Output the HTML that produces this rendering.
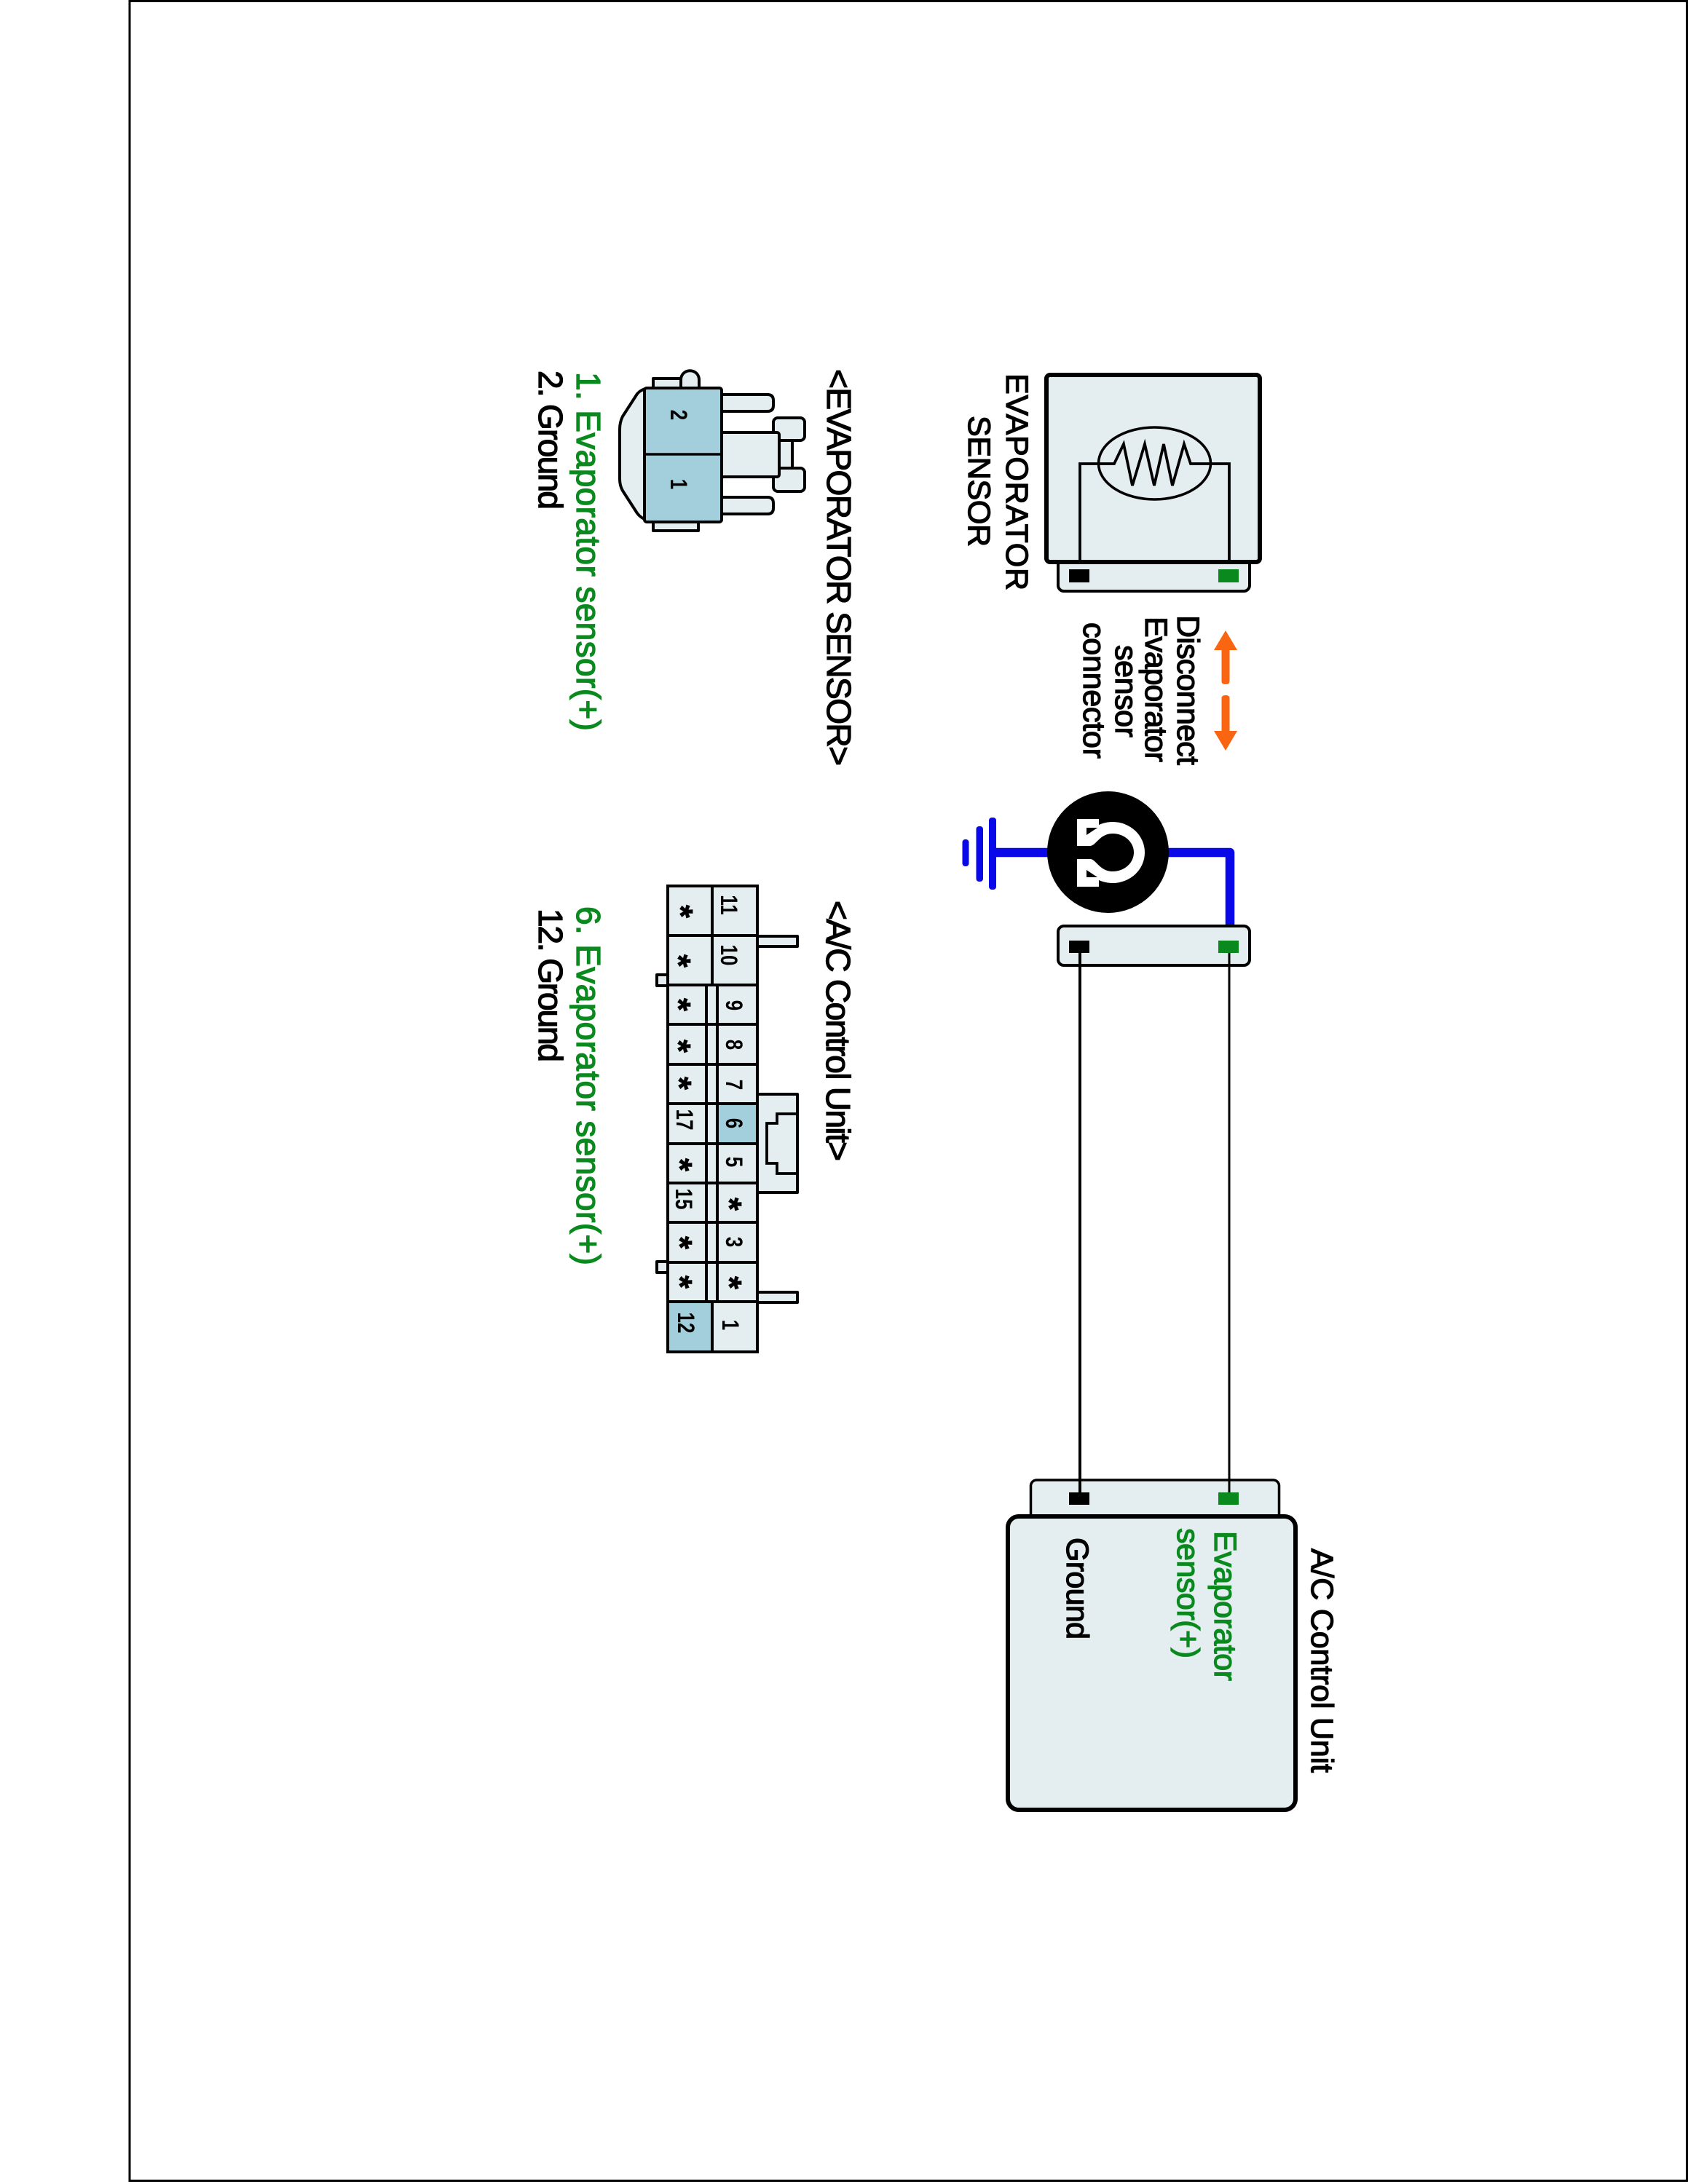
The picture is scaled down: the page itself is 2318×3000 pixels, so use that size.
<!DOCTYPE html>
<html><head><meta charset="utf-8"><style>
html,body{margin:0;padding:0;background:#fff;width:2318px;height:3000px;overflow:hidden}
svg{display:block}
text{font-family:"Liberation Sans",sans-serif;fill:#000}
.lab text{stroke:#000;stroke-width:1.3}
.lab text.g{fill:#0a8a1e;stroke:#0a8a1e}
.d{font-weight:700;font-size:26px;text-anchor:middle}
.s{font-weight:700;font-size:46px;text-anchor:middle;stroke:#000;stroke-width:.8}
.l{fill:#e4eef0;stroke:#000;stroke-width:4;stroke-linejoin:round}
.c{fill:#e4eef0;stroke:#000;stroke-width:4}
.b{fill:#a3cfdc;stroke:#000;stroke-width:4}
</style></head><body>
<svg width="2318" height="3000" viewBox="0 0 2318 3000" xmlns="http://www.w3.org/2000/svg">
<rect x="0" y="0" width="2318" height="3000" fill="#fff"/>
<rect x="178" y="1.5" width="2138.5" height="2994" fill="none" stroke="#000" stroke-width="3"/>

<!-- Evaporator sensor -->
<rect x="1453" y="760" width="263" height="52" rx="8" fill="#e4eef0" stroke="#000" stroke-width="4"/>
<rect x="1437" y="515" width="293" height="257" rx="5" fill="#e4eef0" stroke="#000" stroke-width="6"/>
<polyline points="1483,772 1483,637 1530,637 1543,610 1555,667 1572,610 1585,667 1598,610 1610,667 1626,610 1635,637 1688,637 1688,772" fill="none" stroke="#000" stroke-width="3.8"/>
<ellipse cx="1585.5" cy="636.5" rx="77" ry="49.5" fill="none" stroke="#000" stroke-width="3.6"/>
<rect x="1468" y="782" width="28" height="18" fill="#000"/>
<rect x="1673" y="782" width="28" height="18" fill="#0a8a1e"/>

<!-- Orange arrows -->
<path d="M1683 866 L1699 893 L1688.5 893 L1688.5 936 Q1688.5 940 1683 940 Q1677.5 940 1677.5 936 L1677.5 893 L1667 893 Z" fill="#f96510"/>
<path d="M1683 1031 L1699 1004 L1688.5 1004 L1688.5 959 Q1688.5 955 1683 955 Q1677.5 955 1677.5 959 L1677.5 1004 L1667 1004 Z" fill="#f96510"/>

<!-- Ground symbol -->
<path d="M1363 1171 H1689 V1295" fill="none" stroke="#0808e8" stroke-width="12.5" stroke-linejoin="round"/>
<rect x="1358" y="1123" width="10" height="99" rx="4" fill="#0808e8"/>
<rect x="1340.5" y="1135" width="9.5" height="76" rx="4" fill="#0808e8"/>
<rect x="1321.5" y="1153" width="9" height="37" rx="4" fill="#0808e8"/>
<circle cx="1521.5" cy="1170.5" r="83.5" fill="#000"/>
<path d="M1479 1125 H1509 V1133 Q1518 1129 1528 1129 A44 42 0 0 1 1528 1213 Q1518 1213 1509 1209 V1218 H1479 V1180 H1497 C1505 1180 1510 1197 1528 1197 A29 26 0 0 0 1528 1145 C1510 1145 1505 1162 1497 1162 H1479 Z" fill="#fff"/>
<path d="M1492 1137 H1507 L1492 1147 Z" fill="#000"/>
<path d="M1492 1195 L1507 1205 H1492 Z" fill="#000"/>

<!-- Middle connector & wires -->
<rect x="1453" y="1272" width="263" height="54" rx="8" fill="#e4eef0" stroke="#000" stroke-width="4"/>
<line x1="1483" y1="1300" x2="1483" y2="2060" stroke="#000" stroke-width="4"/>
<line x1="1688" y1="1300" x2="1688" y2="2060" stroke="#000" stroke-width="3"/>
<rect x="1468" y="1292" width="28" height="17" fill="#000"/>
<rect x="1673" y="1292" width="28" height="17" fill="#0a8a1e"/>

<!-- A/C Control Unit -->
<rect x="1415.5" y="2033" width="341" height="60" rx="8" fill="#e4eef0" stroke="#000" stroke-width="3.5"/>
<line x1="1483" y1="2000" x2="1483" y2="2060" stroke="#000" stroke-width="4"/>
<line x1="1688" y1="2000" x2="1688" y2="2060" stroke="#000" stroke-width="3"/>
<rect x="1468" y="2050" width="28" height="17" fill="#000"/>
<rect x="1673" y="2050" width="28" height="17" fill="#0a8a1e"/>
<rect x="1384" y="2083" width="395" height="403" rx="15" fill="#e4eef0" stroke="#000" stroke-width="6"/>

<!-- Sensor connector drawing -->
<path d="M897 533 V520 H936 V533 Z" class="l"/>
<path d="M935 533 V522 C935 505 960 505 960 522 V533 Z" class="l"/>
<rect x="897" y="717" width="62" height="12" class="l"/>
<path d="M890 533 Q880 535 875 541 L855 572 Q851 580 851 590 V658 Q851 667 855 674 L875 705 Q880 712 890 715 Z" class="l"/>
<path d="M991 542 H1054 Q1062 542 1062 550 V557 Q1062 565 1054 565 H991 Z" class="l"/>
<path d="M991 683 H1054 Q1062 683 1062 691 V698 Q1062 706 1054 706 H991 Z" class="l"/>
<rect x="1066" y="604" width="22" height="40" class="l"/>
<rect x="1062" y="574" width="43" height="31" rx="6" class="l"/>
<rect x="1062" y="643" width="43" height="32" rx="6" class="l"/>
<rect x="989" y="594" width="81" height="61" rx="3" class="l"/>
<rect x="885" y="533" width="106" height="184" rx="3" fill="#a3cfdc" stroke="#000" stroke-width="4"/>
<line x1="885" y1="624" x2="991" y2="624" stroke="#000" stroke-width="3.5"/>
<text class="d" transform="translate(921,570) rotate(90) scale(1,1.25)">2</text>
<text class="d" transform="translate(921,665) rotate(90) scale(1,1.25)">1</text>

<!-- ACU connector drawing -->
<rect x="1040" y="1286" width="55" height="14" class="l"/>
<rect x="1040" y="1775" width="55" height="14" class="l"/>
<rect x="902" y="1339" width="15" height="15" class="l"/>
<rect x="902" y="1733" width="15" height="15" class="l"/>
<rect x="1040" y="1503" width="55" height="135" class="l"/>
<polyline points="1093,1530 1067,1530 1067,1543 1053,1543 1053,1598 1067,1598 1067,1612 1093,1612" fill="none" stroke="#000" stroke-width="3.8"/>

<rect x="917" y="1217" width="123" height="640" fill="#e4eef0" stroke="#000" stroke-width="4"/>
<rect x="917" y="1217" width="61" height="68" class="c"/><rect x="978" y="1217" width="62" height="68" class="c"/>
<rect x="917" y="1285" width="61" height="68" class="c"/><rect x="978" y="1285" width="62" height="68" class="c"/>
<rect x="917" y="1788" width="61" height="69" class="b"/><rect x="978" y="1788" width="62" height="69" class="c"/>
<rect x="917" y="1353" width="53" height="54" class="c"/><rect x="985" y="1353" width="55" height="54" class="c"/>
<rect x="917" y="1407" width="53" height="55" class="c"/><rect x="985" y="1407" width="55" height="55" class="c"/>
<rect x="917" y="1462" width="53" height="54" class="c"/><rect x="985" y="1462" width="55" height="54" class="c"/>
<rect x="917" y="1516" width="53" height="55" class="c"/><rect x="985" y="1516" width="55" height="55" class="b"/>
<rect x="917" y="1571" width="53" height="54" class="c"/><rect x="985" y="1571" width="55" height="54" class="c"/>
<rect x="917" y="1625" width="53" height="54" class="c"/><rect x="985" y="1625" width="55" height="54" class="c"/>
<rect x="917" y="1679" width="53" height="55" class="c"/><rect x="985" y="1679" width="55" height="55" class="c"/>
<rect x="917" y="1734" width="53" height="54" class="c"/><rect x="985" y="1734" width="55" height="54" class="c"/>
<g stroke="#000" stroke-width="4">
<line x1="970" y1="1407" x2="985" y2="1407"/><line x1="970" y1="1462" x2="985" y2="1462"/>
<line x1="970" y1="1516" x2="985" y2="1516"/><line x1="970" y1="1571" x2="985" y2="1571"/>
<line x1="970" y1="1625" x2="985" y2="1625"/><line x1="970" y1="1679" x2="985" y2="1679"/>
<line x1="970" y1="1734" x2="985" y2="1734"/>
</g>

<text class="d" transform="translate(990,1243) rotate(90) scale(1,1.25)">11</text>
<text class="d" transform="translate(990,1312) rotate(90) scale(1,1.25)">10</text>
<text class="d" transform="translate(997,1381) rotate(90) scale(1,1.25)">9</text>
<text class="d" transform="translate(997,1435) rotate(90) scale(1,1.25)">8</text>
<text class="d" transform="translate(997,1490) rotate(90) scale(1,1.25)">7</text>
<text class="d" transform="translate(997,1543) rotate(90) scale(1,1.25)">6</text>
<text class="d" transform="translate(997,1596) rotate(90) scale(1,1.25)">5</text>
<text class="d" transform="translate(997,1706) rotate(90) scale(1,1.25)">3</text>
<text class="d" transform="translate(992,1820) rotate(90) scale(1,1.25)">1</text>
<text class="d" transform="translate(931,1817) rotate(90) scale(1,1.25)">12</text>
<text class="d" transform="translate(929,1538) rotate(90) scale(1,1.25)">17</text>
<text class="d" transform="translate(928,1647) rotate(90) scale(1,1.25)">15</text>

<text class="s" transform="translate(919,1252) rotate(90)">*</text>
<text class="s" transform="translate(916,1320) rotate(90)">*</text>
<text class="s" transform="translate(916,1380) rotate(90)">*</text>
<text class="s" transform="translate(916,1437) rotate(90)">*</text>
<text class="s" transform="translate(917,1488) rotate(90)">*</text>
<text class="s" transform="translate(918,1600) rotate(90)">*</text>
<text class="s" transform="translate(918,1707) rotate(90)">*</text>
<text class="s" transform="translate(918,1761) rotate(90)">*</text>
<text class="s" transform="translate(986,1654) rotate(90)">*</text>
<text class="s" transform="translate(986,1762) rotate(90)">*</text>

<!-- Labels -->
<g font-size="43" class="lab">
<text transform="translate(1382,513) rotate(90)" textLength="298">EVAPORATOR</text>
<text transform="translate(1330,571) rotate(90)" textLength="180">SENSOR</text>
<text transform="translate(1617,845) rotate(90)" textLength="206">Disconnect</text>
<text transform="translate(1573,847) rotate(90)" textLength="200">Evaporator</text>
<text transform="translate(1532,886) rotate(90)" textLength="127">sensor</text>
<text transform="translate(1488,855) rotate(90)" textLength="187">connector</text>
<text transform="translate(1801,2127) rotate(90)" textLength="308">A/C Control Unit</text>
<text class="g" transform="translate(1668,2103) rotate(90)" textLength="206">Evaporator</text>
<text class="g" transform="translate(1617,2099) rotate(90)" textLength="179">sensor(+)</text>
<text transform="translate(1465,2112) rotate(90)" textLength="140">Ground</text>
</g>
<g font-size="46" class="lab">
<text transform="translate(1136,507) rotate(90)" textLength="545">&lt;EVAPORATOR SENSOR&gt;</text>
<text class="g" transform="translate(792,511) rotate(90)" textLength="493">1. Evaporator sensor(+)</text>
<text transform="translate(740,509) rotate(90)" textLength="191">2. Ground</text>
<text transform="translate(1135,1237) rotate(90)" textLength="358">&lt;A/C Control Unit&gt;</text>
<text class="g" transform="translate(792,1245) rotate(90)" textLength="493">6. Evaporator sensor(+)</text>
<text transform="translate(740,1248) rotate(90)" textLength="211">12. Ground</text>
</g>
</svg>
</body></html>
